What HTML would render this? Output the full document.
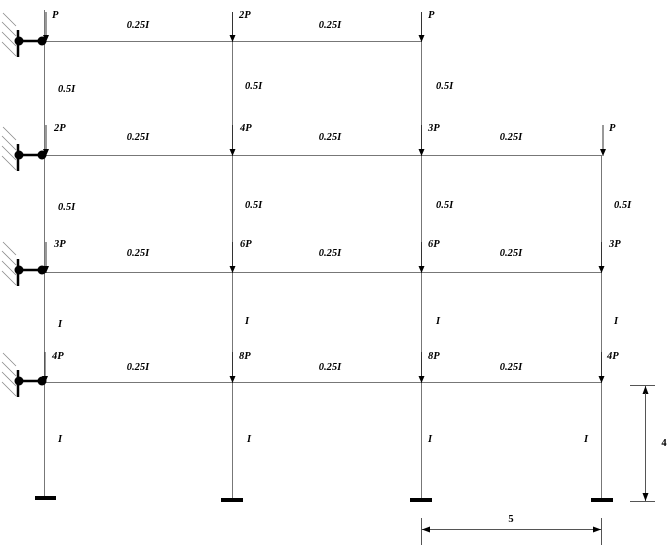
<!DOCTYPE html>
<html><head><meta charset="utf-8"><style>
html,body{margin:0;padding:0;background:#fff;}
svg text{font-family:"Liberation Serif",serif;font-weight:bold;font-style:italic;font-size:10.5px;fill:#000;}
</style></head><body>
<svg width="672" height="545" viewBox="0 0 672 545" xmlns="http://www.w3.org/2000/svg">
<defs>
<marker id="ah" markerWidth="7" markerHeight="6" refX="7" refY="3" orient="auto" markerUnits="userSpaceOnUse">
<path d="M0,0 L7,3 L0,6 z" fill="#000"/></marker>
<marker id="dh" markerWidth="8" markerHeight="6" refX="8" refY="3" orient="auto" markerUnits="userSpaceOnUse">
<path d="M0,0 L8,3 L0,6 z" fill="#000"/></marker>
</defs>
<g stroke="#777" stroke-width="1" fill="none">
<line x1="44.5" y1="10" x2="44.5" y2="498"/>
<line x1="232.5" y1="41" x2="232.5" y2="498"/>
<line x1="421.5" y1="41" x2="421.5" y2="498"/>
<line x1="601.5" y1="155" x2="601.5" y2="498"/>
<line x1="44" y1="41.5" x2="421" y2="41.5"/>
<line x1="44" y1="155.5" x2="601" y2="155.5"/>
<line x1="44" y1="272.5" x2="601" y2="272.5"/>
<line x1="44" y1="382.5" x2="601" y2="382.5"/>
</g>
<g stroke="#333" stroke-width="1" marker-end="url(#ah)">
<line x1="46" y1="12" x2="46" y2="42"/>
<line x1="232.5" y1="12" x2="232.5" y2="42"/>
<line x1="421.5" y1="12" x2="421.5" y2="42"/>
<line x1="46" y1="125" x2="46" y2="156"/>
<line x1="232.5" y1="125" x2="232.5" y2="156"/>
<line x1="421.5" y1="125" x2="421.5" y2="156"/>
<line x1="603" y1="125" x2="603" y2="156"/>
<line x1="46" y1="242" x2="46" y2="273"/>
<line x1="232.5" y1="242" x2="232.5" y2="273"/>
<line x1="421.5" y1="242" x2="421.5" y2="273"/>
<line x1="601.5" y1="242" x2="601.5" y2="273"/>
<line x1="45" y1="352" x2="45" y2="383"/>
<line x1="232.5" y1="352" x2="232.5" y2="383"/>
<line x1="421.5" y1="352" x2="421.5" y2="383"/>
<line x1="601.5" y1="352" x2="601.5" y2="383"/>
</g>
<g id="sup">
<line x1="18" y1="30" x2="18" y2="57" stroke="#000" stroke-width="2.5"/>
<line x1="18" y1="41" x2="44" y2="41" stroke="#000" stroke-width="2.5"/>
<circle cx="19" cy="41" r="4.5" fill="#000"/>
<circle cx="42" cy="41" r="4.5" fill="#000"/>
<g stroke="#888" stroke-width="0.8">
<line x1="3" y1="13" x2="16" y2="26"/>
<line x1="2" y1="22" x2="16" y2="36"/>
<line x1="2" y1="32" x2="16" y2="46"/>
<line x1="2" y1="42" x2="16" y2="56"/>
</g>
</g>
<use href="#sup" y="114"/>
<use href="#sup" y="229"/>
<use href="#sup" y="340"/>
<g fill="#000">
<rect x="35" y="496" width="21" height="4"/>
<rect x="221" y="498" width="22" height="4"/>
<rect x="410" y="498" width="22" height="4"/>
<rect x="591" y="498" width="22" height="4"/>
</g>
<g stroke="#555" stroke-width="1">
<line x1="630" y1="385.5" x2="655" y2="385.5"/>
<line x1="630" y1="501.5" x2="655" y2="501.5"/>
<line x1="421.5" y1="518" x2="421.5" y2="545"/>
<line x1="601.5" y1="518" x2="601.5" y2="545"/>
<line x1="645.5" y1="393" x2="645.5" y2="386" marker-end="url(#dh)"/>
<line x1="645.5" y1="493" x2="645.5" y2="501" marker-end="url(#dh)"/>
<line x1="645.5" y1="393" x2="645.5" y2="493"/>
<line x1="430" y1="529.5" x2="422" y2="529.5" marker-end="url(#dh)"/>
<line x1="592" y1="529.5" x2="601" y2="529.5" marker-end="url(#dh)"/>
<line x1="430" y1="529.5" x2="592" y2="529.5"/>
</g>
<text x="664" y="446" style="font-style:normal" text-anchor="middle">4</text>
<text x="511" y="522" style="font-style:normal" text-anchor="middle">5</text>
<text x="52" y="18">P</text>
<text x="239" y="18">2P</text>
<text x="428" y="18">P</text>
<text x="54" y="131">2P</text>
<text x="240" y="131">4P</text>
<text x="428" y="131">3P</text>
<text x="609" y="131">P</text>
<text x="54" y="247">3P</text>
<text x="240" y="247">6P</text>
<text x="428" y="247">6P</text>
<text x="609" y="247">3P</text>
<text x="52" y="359">4P</text>
<text x="239" y="359">8P</text>
<text x="428" y="359">8P</text>
<text x="607" y="359">4P</text>
<g text-anchor="middle">
<text x="138" y="28">0.25I</text>
<text x="330" y="28">0.25I</text>
<text x="138" y="140">0.25I</text>
<text x="330" y="140">0.25I</text>
<text x="511" y="140">0.25I</text>
<text x="138" y="256">0.25I</text>
<text x="330" y="256">0.25I</text>
<text x="511" y="256">0.25I</text>
<text x="138" y="370">0.25I</text>
<text x="330" y="370">0.25I</text>
<text x="511" y="370">0.25I</text>
</g>
<text x="58" y="92">0.5I</text>
<text x="245" y="89">0.5I</text>
<text x="436" y="89">0.5I</text>
<text x="58" y="210">0.5I</text>
<text x="245" y="208">0.5I</text>
<text x="436" y="208">0.5I</text>
<text x="614" y="208">0.5I</text>
<text x="58" y="327">I</text>
<text x="245" y="324">I</text>
<text x="436" y="324">I</text>
<text x="614" y="324">I</text>
<text x="58" y="442">I</text>
<text x="247" y="442">I</text>
<text x="428" y="442">I</text>
<text x="584" y="442">I</text>
</svg>
</body></html>
